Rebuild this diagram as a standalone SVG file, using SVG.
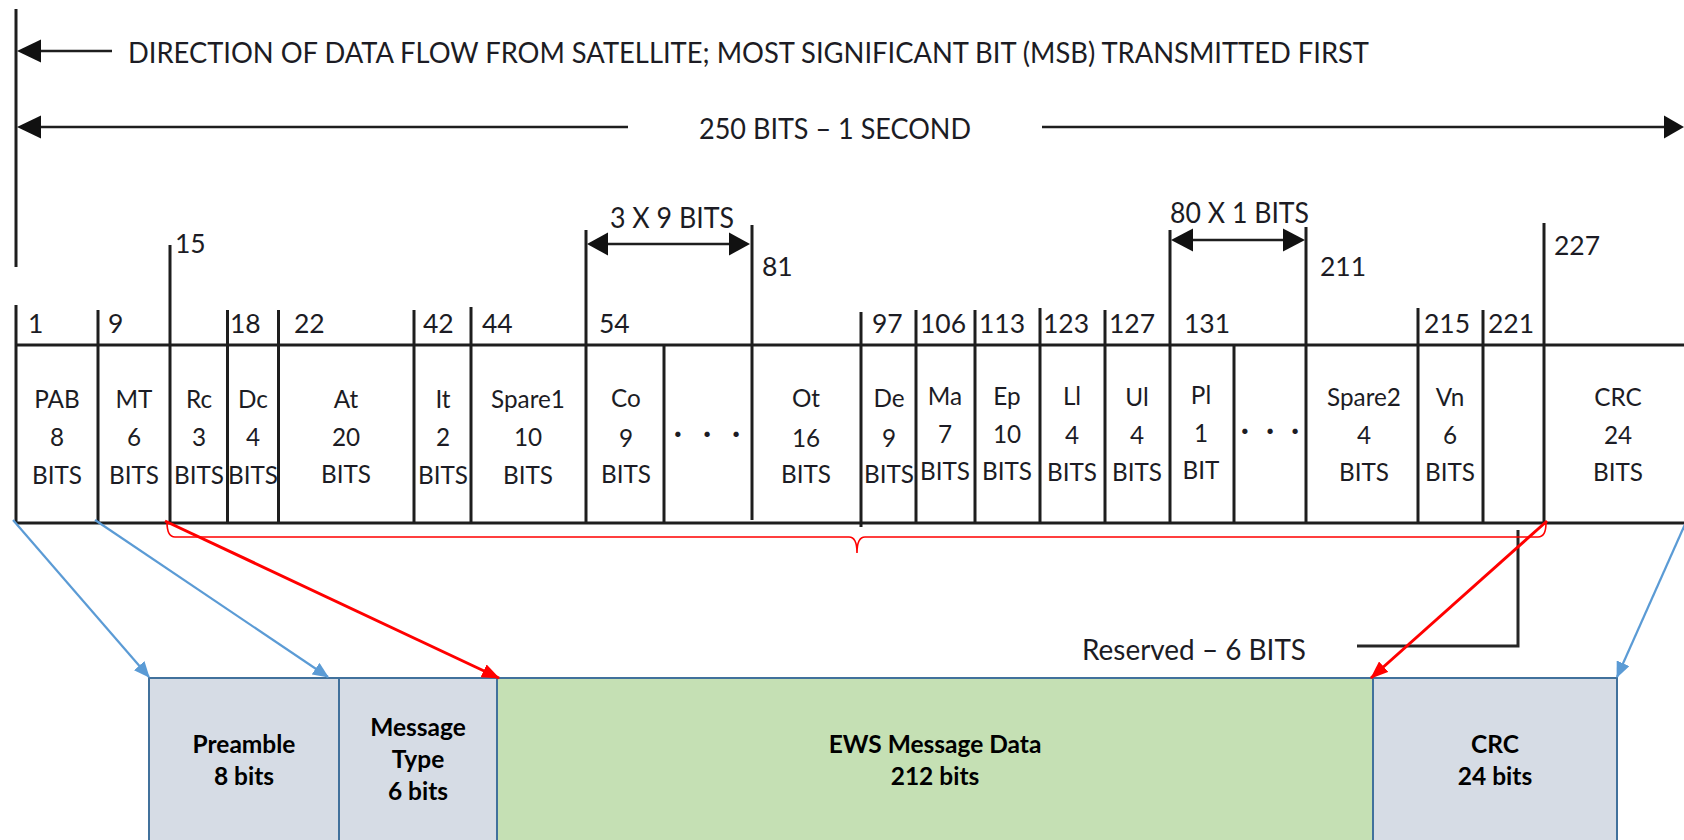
<svg xmlns="http://www.w3.org/2000/svg" width="1684" height="840" viewBox="0 0 1684 840">
<style>
text{font-family:Lato,"Open Sans","Liberation Sans",sans-serif;fill:#1c1c24}
.hd{font-size:28px}
.num{font-size:26.5px}
.cell{font-size:24.3px;text-anchor:middle}
.box{font-size:24.5px;font-weight:bold;text-anchor:middle;fill:#000}
.k{stroke:#1e1e1e;stroke-width:3;fill:none}
.kt{stroke:#1e1e1e;stroke-width:2.5;fill:none}
.dot{font-size:28px;font-weight:bold;text-anchor:start}
.bx{stroke:#41719C;stroke-width:2}
.blue{stroke:#5B9BD5;stroke-width:2.2;fill:none}
.red{stroke:#FF0000;stroke-width:3;fill:none}
</style>
<defs>
<marker id="ab" markerWidth="16" markerHeight="14" refX="15" refY="7" orient="auto" markerUnits="userSpaceOnUse"><path d="M0,0 L16,7 L0,14 Z" fill="#5B9BD5"/></marker>
<marker id="ar" markerWidth="18" markerHeight="14" refX="17" refY="7" orient="auto" markerUnits="userSpaceOnUse"><path d="M0,0 L18,7 L0,14 Z" fill="#FF0000"/></marker>
</defs>
<rect width="1684" height="840" fill="#fff"/>

<g id="header">
<line class="k" x1="16" y1="9" x2="16" y2="267"/>
<line class="kt" x1="30" y1="51" x2="112" y2="51"/>
<polygon points="17,51 41,39.5 41,62.5" fill="#111"/>
<text class="hd" x="128" y="63" textLength="1241" lengthAdjust="spacingAndGlyphs">DIRECTION OF DATA FLOW FROM SATELLITE; MOST SIGNIFICANT BIT (MSB) TRANSMITTED FIRST</text>
<line class="kt" x1="30" y1="127" x2="628" y2="127"/>
<polygon points="17,127 41,115.5 41,138.5" fill="#111"/>
<text class="hd" x="699" y="139" textLength="272" lengthAdjust="spacingAndGlyphs">250 BITS – 1 SECOND</text>
<line class="kt" x1="1042" y1="127" x2="1670" y2="127"/>
<polygon points="1684,127 1664,115.5 1664,138.5" fill="#111"/>
</g>

<g id="spans">
<text class="hd" x="610" y="228" textLength="124" lengthAdjust="spacingAndGlyphs">3 X 9 BITS</text>
<line class="kt" x1="600" y1="244" x2="737" y2="244"/>
<polygon points="587,244 608,232.5 608,255.5" fill="#111"/>
<polygon points="750,244 729,232.5 729,255.5" fill="#111"/>
<text class="hd" x="1170" y="223" textLength="139" lengthAdjust="spacingAndGlyphs">80 X 1 BITS</text>
<line class="kt" x1="1185" y1="240" x2="1291" y2="240"/>
<polygon points="1171,240 1193,228.5 1193,251.5" fill="#111"/>
<polygon points="1305,240 1283,228.5 1283,251.5" fill="#111"/>
</g>

<g id="table">
<line class="k" x1="16" y1="345" x2="1684" y2="345"/>
<line class="k" x1="16" y1="523" x2="1684" y2="523"/>
<path class="k" d="M16,305V523 M98,310V523 M170,245V523 M227.5,310V523 M278.5,310V523 M414,310V523 M471,307V523 M586,230V523 M664,345V523 M752,225V520 M861,312V527 M916,310V523 M975,310V523 M1040,308V523 M1105,310V523 M1170,230V523 M1234,345V523 M1306,227V523 M1418,308V523 M1483,310V523 M1544,223V523"/>
</g>

<g id="bitnumbers" class="num">
<text x="175" y="253">15</text>
<text x="762" y="276">81</text>
<text x="1320" y="276">211</text>
<text x="1554" y="255">227</text>
<text x="28" y="333">1</text>
<text x="108" y="333">9</text>
<text x="230" y="333">18</text>
<text x="294" y="333">22</text>
<text x="423" y="333">42</text>
<text x="482" y="333">44</text>
<text x="599" y="333">54</text>
<text x="872" y="333">97</text>
<text x="920" y="333">106</text>
<text x="979" y="333">113</text>
<text x="1043" y="333">123</text>
<text x="1109" y="333">127</text>
<text x="1184" y="333">131</text>
<text x="1424" y="333">215</text>
<text x="1488" y="333">221</text>
</g>

<g id="fields" class="cell">
<g id="f-pab"><text x="57" y="408">PAB</text><text x="57" y="446">8</text><text x="57" y="484">BITS</text></g>
<g id="f-mt"><text x="134" y="408">MT</text><text x="134" y="446">6</text><text x="134" y="484">BITS</text></g>
<g id="f-rc"><text x="199" y="408">Rc</text><text x="199" y="446">3</text><text x="199" y="484">BITS</text></g>
<g id="f-dc"><text x="253" y="408">Dc</text><text x="253" y="446">4</text><text x="253" y="484">BITS</text></g>
<g id="f-at"><text x="346" y="408">At</text><text x="346" y="446">20</text><text x="346" y="483">BITS</text></g>
<g id="f-it"><text x="443" y="408">It</text><text x="443" y="446">2</text><text x="443" y="484">BITS</text></g>
<g id="f-spare1"><text x="528" y="408">Spare1</text><text x="528" y="446">10</text><text x="528" y="484">BITS</text></g>
<g id="f-co"><text x="626" y="407">Co</text><text x="626" y="447">9</text><text x="626" y="483">BITS</text></g>
<g id="f-dots1"><text class="dot" x="674" y="443" textLength="66" lengthAdjust="spacing">· · ·</text></g>
<g id="f-ot"><text x="806" y="407">Ot</text><text x="806" y="447">16</text><text x="806" y="483">BITS</text></g>
<g id="f-de"><text x="889" y="407">De</text><text x="889" y="447">9</text><text x="889" y="483">BITS</text></g>
<g id="f-ma"><text x="945" y="405">Ma</text><text x="945" y="443">7</text><text x="945" y="480">BITS</text></g>
<g id="f-ep"><text x="1007" y="405">Ep</text><text x="1007" y="443">10</text><text x="1007" y="480">BITS</text></g>
<g id="f-ll"><text x="1072" y="405">Ll</text><text x="1072" y="444">4</text><text x="1072" y="481">BITS</text></g>
<g id="f-ul"><text x="1137" y="406">Ul</text><text x="1137" y="444">4</text><text x="1137" y="481">BITS</text></g>
<g id="f-pl"><text x="1201" y="404">Pl</text><text x="1201" y="442">1</text><text x="1201" y="479">BIT</text></g>
<g id="f-dots2"><text class="dot" x="1241" y="440" textLength="58" lengthAdjust="spacing">· · ·</text></g>
<g id="f-spare2"><text x="1364" y="406">Spare2</text><text x="1364" y="444">4</text><text x="1364" y="481">BITS</text></g>
<g id="f-vn"><text x="1450" y="406">Vn</text><text x="1450" y="444">6</text><text x="1450" y="481">BITS</text></g>
<g id="f-crc"><text x="1618" y="406">CRC</text><text x="1618" y="444">24</text><text x="1618" y="481">BITS</text></g>
</g>

<g id="reserved">
<path d="M1518,530 V646 H1357" stroke="#262626" stroke-width="3" fill="none"/>
<text class="hd" x="1082" y="660" textLength="224" lengthAdjust="spacingAndGlyphs">Reserved – 6 BITS</text>
</g>

<g id="boxes">
<g id="b-preamble"><rect class="bx" x="149" y="678" width="190" height="170" fill="#D6DCE5"/><text class="box" x="244" y="753">Preamble</text><text class="box" x="244" y="785">8 bits</text></g>
<g id="b-mt"><rect class="bx" x="339" y="678" width="158" height="170" fill="#D6DCE5"/><text class="box" x="418" y="736">Message</text><text class="box" x="418" y="768">Type</text><text class="box" x="418" y="800">6 bits</text></g>
<g id="b-ews"><rect class="bx" x="497" y="678" width="876" height="170" fill="#C5E0B4"/><text class="box" x="935" y="753">EWS Message Data</text><text class="box" x="935" y="785">212 bits</text></g>
<g id="b-crc"><rect class="bx" x="1373" y="678" width="244" height="170" fill="#D6DCE5"/><text class="box" x="1495" y="753">CRC</text><text class="box" x="1495" y="785">24 bits</text></g>
</g>

<g id="connectors">
<path d="M167,522 Q167,537 175,537 L849,537 Q857,537 857,553 Q857,537 865,537 L1538,537 Q1546,537 1546,523" stroke="#FF0000" stroke-width="1.6" fill="none"/>
<line class="blue" x1="13" y1="520" x2="149" y2="677" marker-end="url(#ab)"/>
<line class="blue" x1="95" y1="520" x2="328" y2="677" marker-end="url(#ab)"/>
<line class="blue" x1="1686" y1="522" x2="1617" y2="677" marker-end="url(#ab)"/>
<line class="red" x1="165" y1="521" x2="499" y2="678" marker-end="url(#ar)"/>
<line class="red" x1="1547" y1="521" x2="1371" y2="678" marker-end="url(#ar)"/>
</g>
</svg>
